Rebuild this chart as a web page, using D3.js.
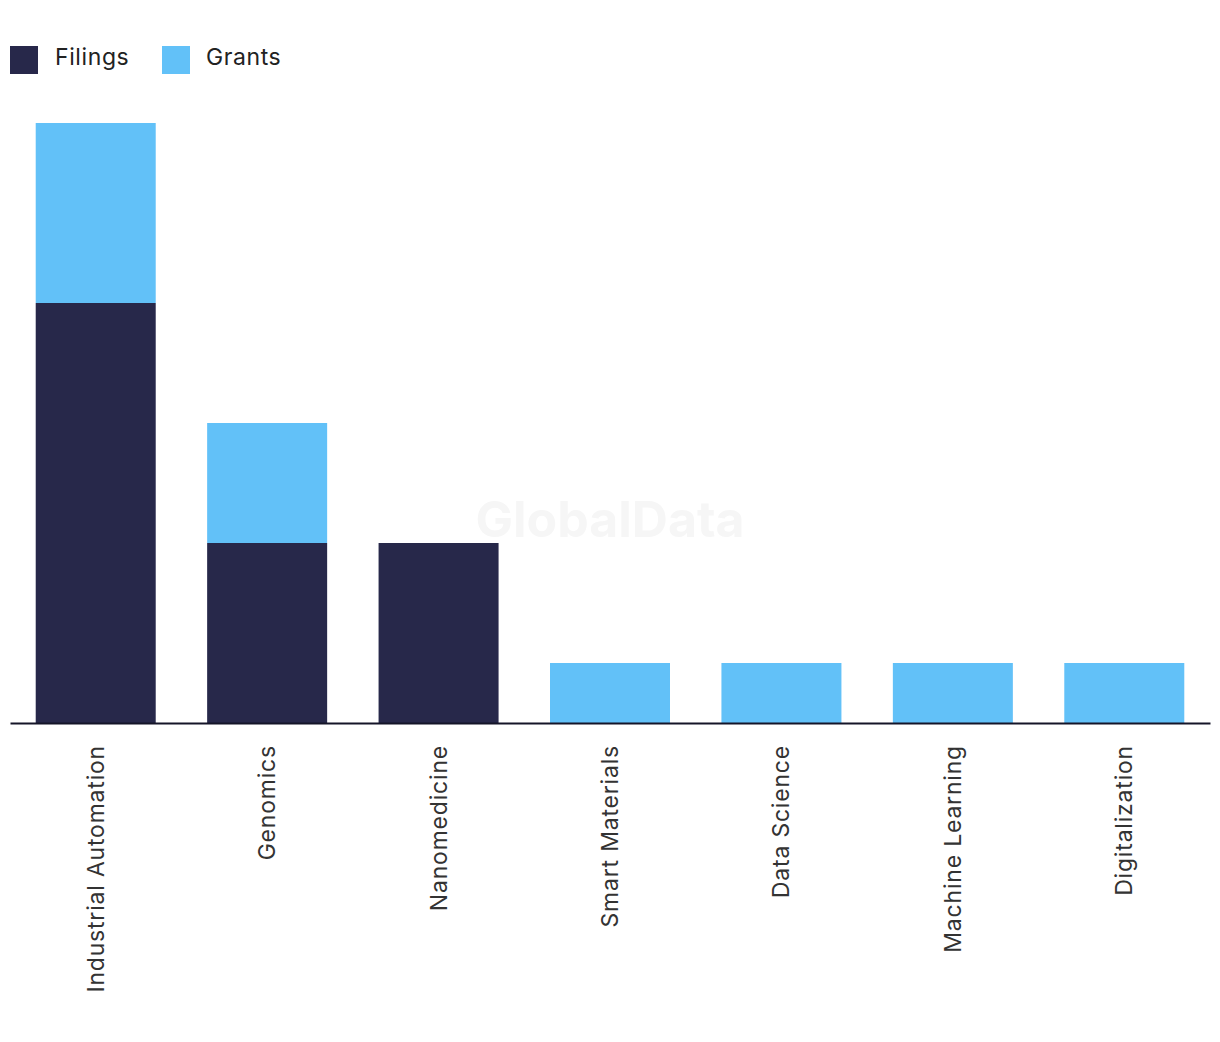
<!DOCTYPE html>
<html><head><meta charset="utf-8">
<script src="https://cdn.jsdelivr.net/npm/d3@7"></script>
<style>body{margin:0;background:#fff;}svg{display:block;font-family:"Inter","Liberation Sans",sans-serif;}</style>
</head><body>
<svg id="c" width="1220" height="1042"></svg>
<script>
const categories = ["Industrial Automation","Genomics","Nanomedicine","Smart Materials","Data Science","Machine Learning","Digitalization"];
const filings = [7,3,3,0,0,0,0];
const grants  = [3,2,0,1,1,1,1];
const seriesNames = ["Filings","Grants"];
const colors = ["#27284a","#62c1f8"];

const svg = d3.select("#c");
const x = d3.scaleBand().domain(categories).range([10,1210]).paddingInner(0.3).paddingOuter(0.15);
const y = d3.scaleLinear().domain([0,10]).range([723,123]);

svg.append("text").attr("x",610).attr("y",523).attr("text-anchor","middle").attr("dominant-baseline","middle")
  .attr("font-size",50).attr("font-weight",700).attr("fill","#f6f6f6").text("GlobalData");

const table = categories.map((c,i)=>({cat:c, Filings:filings[i], Grants:grants[i]}));
const stack = d3.stack().keys(seriesNames)(table);
stack.forEach((s,si)=>{
  svg.append("g").selectAll("rect").data(s).join("rect")
    .attr("x",d=>x(d.data.cat)).attr("width",x.bandwidth())
    .attr("y",d=>y(d[1])).attr("height",d=>y(d[0])-y(d[1]))
    .attr("fill",colors[si]);
});

const ax = svg.append("g").attr("transform","translate(0,723)").call(d3.axisBottom(x).tickSize(0).tickPadding(0));
ax.select(".domain").attr("stroke","#151528").attr("stroke-width",2);
ax.selectAll("text").attr("font-size",23).attr("letter-spacing","0.8px").attr("fill","#333").attr("font-family","Inter, Liberation Sans, sans-serif")
  .attr("transform","rotate(-90)").attr("text-anchor","end").attr("dy","0.35em").attr("x",-22).attr("y",0);

const leg = svg.append("g");
[[10,55],[162,206]].forEach((p,i)=>{
  leg.append("rect").attr("x",p[0]).attr("y",46).attr("width",28).attr("height",28).attr("fill",colors[i]);
  leg.append("text").attr("x",p[1]).attr("y",59).attr("dominant-baseline","middle").attr("font-size",23).attr("letter-spacing","0.6px").attr("fill","#222").text(seriesNames[i]);
});
</script>
</body></html>
